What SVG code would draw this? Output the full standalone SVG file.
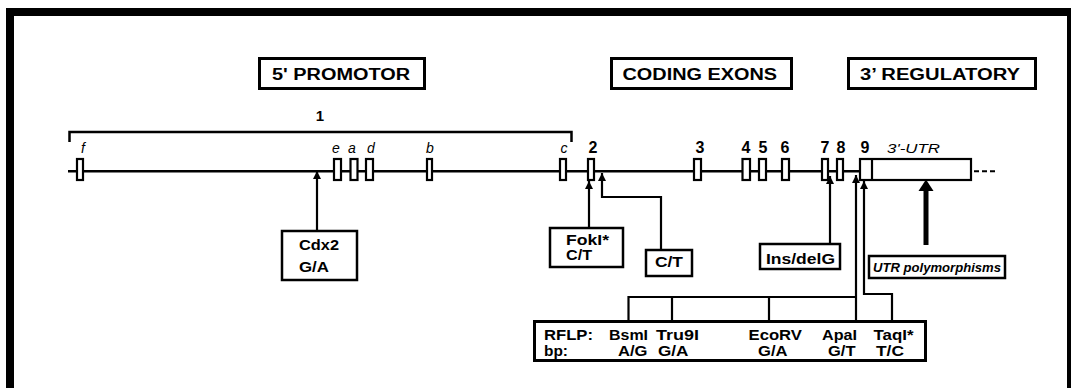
<svg xmlns="http://www.w3.org/2000/svg" width="1072" height="388" viewBox="0 0 1072 388">
<style>
text{font-family:"Liberation Sans",Arial,sans-serif;fill:#000}
.b{font-weight:bold}
.i{font-style:italic}
.hdr{font-size:16px;font-weight:bold}
.num{font-size:16px;font-weight:bold;text-anchor:middle}
.let{font-size:14px;font-style:italic;text-anchor:middle}
.nb{font-size:15px;font-weight:bold}
.rf{font-size:15px;font-weight:bold}
.box{fill:#fff;stroke:#000;stroke-width:2.5}
.hbox{fill:#fff;stroke:#000;stroke-width:3}
.ex{fill:#fff;stroke:#000;stroke-width:2.2}
.ln{fill:none;stroke:#000;stroke-width:2.2}
</style>
<defs>
<marker id="ah" viewBox="0 0 10 10" refX="10" refY="5" markerWidth="8" markerHeight="8" markerUnits="userSpaceOnUse" orient="auto"><path d="M0,0 L10,5 L0,10 z" fill="#000"/></marker>
</defs>
<rect width="1072" height="388" fill="#fff"/>
<g id="frame">
<path d="M10,388 V12 H1071" fill="none" stroke="#000" stroke-width="8"/>
<path d="M1069,12 V388" fill="none" stroke="#000" stroke-width="4"/>
</g>
<g id="headers">
<g id="promotor"><rect class="hbox" x="259.5" y="58.5" width="165" height="30"/><text class="hdr" x="272" y="80" textLength="138" lengthAdjust="spacingAndGlyphs">5' PROMOTOR</text></g>
<g id="coding"><rect class="hbox" x="611.5" y="58.5" width="180" height="30"/><text class="hdr" x="622.5" y="80" textLength="154.5" lengthAdjust="spacingAndGlyphs">CODING EXONS</text></g>
<g id="regulatory"><rect class="hbox" x="848.5" y="58.5" width="187" height="30"/><text class="hdr" x="860" y="80" textLength="160" lengthAdjust="spacingAndGlyphs">3’ REGULATORY</text></g>
</g>
<g id="gene">
<path id="bracket" d="M69.5,142 V132 H571.5 V142" fill="none" stroke="#000" stroke-width="2.5"/>
<text class="nb" x="320" y="121" text-anchor="middle">1</text>
<path d="M68,171.3 H860" fill="none" stroke="#000" stroke-width="2.5"/>
<path d="M974,171.3 H996" fill="none" stroke="#000" stroke-width="2" stroke-dasharray="5,3"/>
<rect class="ex" x="77" y="159" width="6" height="21"/>
<rect class="ex" x="334" y="159" width="7" height="21"/>
<rect class="ex" x="350.5" y="159" width="7" height="21"/>
<rect class="ex" x="366" y="159" width="7" height="21"/>
<rect class="ex" x="427" y="159" width="5" height="21"/>
<rect class="ex" x="560" y="159" width="6" height="21"/>
<rect class="ex" x="588" y="159" width="6" height="21"/>
<rect class="ex" x="694" y="159" width="7" height="21"/>
<rect class="ex" x="742.5" y="159" width="7.5" height="21"/>
<rect class="ex" x="759" y="159" width="7" height="21"/>
<rect class="ex" x="782" y="159" width="7" height="21"/>
<rect class="ex" x="822" y="159" width="6" height="21"/>
<rect class="ex" x="837" y="159" width="6" height="21"/>
<rect class="ex" x="860" y="159" width="111" height="21"/>
<path d="M872,159 V180" fill="none" stroke="#000" stroke-width="2.2"/>
<text class="let" x="83" y="153">f</text>
<text class="let" x="336" y="153">e</text>
<text class="let" x="352" y="153">a</text>
<text class="let" x="371" y="153">d</text>
<text class="let" x="430" y="153">b</text>
<text class="let" x="564" y="153">c</text>
<text class="num" x="593" y="153">2</text>
<text class="num" x="700" y="153">3</text>
<text class="num" x="746" y="153">4</text>
<text class="num" x="763" y="153">5</text>
<text class="num" x="785" y="153">6</text>
<text class="num" x="825" y="153">7</text>
<text class="num" x="841" y="153">8</text>
<text class="num" x="865" y="153">9</text>
<text class="i" x="887" y="153" font-size="13.5" textLength="53" lengthAdjust="spacingAndGlyphs">3'-UTR</text>
</g>
<g id="connectors">
<path class="ln" d="M317,230 V171" marker-end="url(#ah)"/>
<path class="ln" d="M589,227 V181" marker-end="url(#ah)"/>
<path class="ln" d="M661,249 V197 H602 V173" marker-end="url(#ah)"/>
<path class="ln" d="M830,243 V176" marker-end="url(#ah)"/>
<path class="ln" d="M856,320 V175" marker-end="url(#ah)"/>
<path class="ln" d="M892,320 V294 H864 V181" marker-end="url(#ah)"/>
<path class="ln" d="M628.5,320 V297 H856 M672,297 V320 M769,297 V320"/>
<path d="M926,245 V189" fill="none" stroke="#000" stroke-width="5"/>
<polygon points="918.5,191 933.5,191 926,179.5" fill="#000"/>
</g>
<g id="cdx2"><rect class="box" x="282" y="231" width="75" height="49"/>
<text class="b" x="299" y="250" font-size="15" textLength="40" lengthAdjust="spacingAndGlyphs">Cdx2</text>
<text class="b" x="299" y="271.5" font-size="15" textLength="30" lengthAdjust="spacingAndGlyphs">G/A</text></g>
<g id="foki"><rect class="box" x="550" y="228" width="73" height="39"/>
<text class="b" x="566" y="245" font-size="14" textLength="43" lengthAdjust="spacingAndGlyphs">FokI*</text>
<text class="b" x="566" y="260" font-size="14" textLength="26" lengthAdjust="spacingAndGlyphs">C/T</text></g>
<g id="ct"><rect class="box" x="646" y="250" width="46" height="26"/>
<text class="b" x="655" y="266.5" font-size="14" textLength="28" lengthAdjust="spacingAndGlyphs">C/T</text></g>
<g id="insdel"><rect class="box" x="760" y="244" width="80" height="25"/>
<text class="b" x="766" y="263.5" font-size="15" textLength="69" lengthAdjust="spacingAndGlyphs">Ins/delG</text></g>
<g id="utrpoly"><rect class="box" x="869" y="256" width="136" height="22"/>
<text class="b i" x="873" y="271.5" font-size="12.5" textLength="128" lengthAdjust="spacingAndGlyphs">UTR polymorphisms</text></g>
<g id="rflp"><rect fill="#fff" stroke="#000" stroke-width="3" x="534.5" y="321.5" width="391" height="39"/>
<text class="rf" x="544" y="339.5" textLength="49" lengthAdjust="spacingAndGlyphs">RFLP:</text>
<text class="rf" x="544" y="356" textLength="24" lengthAdjust="spacingAndGlyphs">bp:</text>
<text class="rf" x="609" y="339.5" textLength="39" lengthAdjust="spacingAndGlyphs">BsmI</text>
<text class="rf" x="618" y="356" textLength="29.5" lengthAdjust="spacingAndGlyphs">A/G</text>
<text class="rf" x="656" y="339.5" textLength="43" lengthAdjust="spacingAndGlyphs">Tru9I</text>
<text class="rf" x="658" y="356" textLength="30.5" lengthAdjust="spacingAndGlyphs">G/A</text>
<text class="rf" x="748.5" y="339.5" textLength="53.5" lengthAdjust="spacingAndGlyphs">EcoRV</text>
<text class="rf" x="758" y="356" textLength="29.5" lengthAdjust="spacingAndGlyphs">G/A</text>
<text class="rf" x="822" y="339.5" textLength="35" lengthAdjust="spacingAndGlyphs">ApaI</text>
<text class="rf" x="828" y="356" textLength="27.5" lengthAdjust="spacingAndGlyphs">G/T</text>
<text class="rf" x="873.5" y="339.5" textLength="40" lengthAdjust="spacingAndGlyphs">TaqI*</text>
<text class="rf" x="876" y="356" textLength="28" lengthAdjust="spacingAndGlyphs">T/C</text></g>
</svg>
